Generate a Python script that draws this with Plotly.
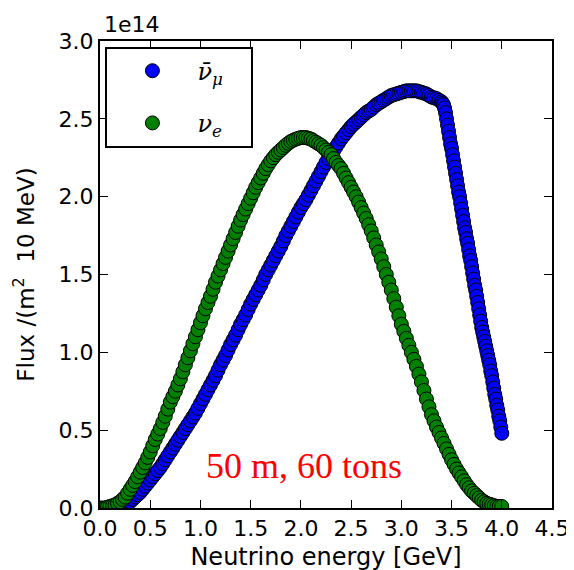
import numpy as np
import plotly.graph_objects as go

# flux in units of 1e14 /(m^2 10 MeV), energy in GeV
e_green = np.round(np.arange(0.0, 4.0001, 0.025), 3)
flux_green = [0.00, 0.00, 0.00, 0.005, 0.01, 0.015, 0.02, 0.03, 0.04, 0.055,
              0.07, 0.095, 0.12, 0.145, 0.17, 0.20, 0.23, 0.26, 0.29, 0.325,
              0.36, 0.40, 0.44, 0.475, 0.51, 0.55, 0.59, 0.635, 0.68, 0.715,
              0.75, 0.79, 0.83, 0.875, 0.92, 0.965, 1.01, 1.055, 1.10, 1.145,
              1.19, 1.235, 1.28, 1.32, 1.36, 1.405, 1.45, 1.49, 1.53, 1.57,
              1.61, 1.65, 1.69, 1.73, 1.77, 1.81, 1.85, 1.885, 1.92, 1.955,
              1.99, 2.025, 2.06, 2.09, 2.12, 2.15, 2.18, 2.205, 2.23, 2.25,
              2.27, 2.285, 2.30, 2.315, 2.33, 2.343, 2.355, 2.363, 2.37, 2.375,
              2.38, 2.38, 2.38, 2.375, 2.37, 2.36, 2.35, 2.34, 2.33, 2.315,
              2.30, 2.285, 2.27, 2.245, 2.22, 2.20, 2.18, 2.15, 2.12, 2.09,
              2.06, 2.03, 2.00, 1.965, 1.93, 1.895, 1.86, 1.82, 1.78, 1.735,
              1.69, 1.645, 1.60, 1.55, 1.50, 1.45, 1.40, 1.345, 1.29, 1.235,
              1.18, 1.135, 1.09, 1.045, 1.00, 0.955, 0.91, 0.86, 0.81, 0.755,
              0.70, 0.65, 0.60, 0.56, 0.52, 0.485, 0.45, 0.415, 0.38, 0.345,
              0.31, 0.28, 0.25, 0.225, 0.20, 0.175, 0.15, 0.13, 0.11, 0.095,
              0.08, 0.065, 0.05, 0.04, 0.03, 0.025, 0.02, 0.015, 0.01, 0.01,
              0.01]

e_blue_rise = np.round(np.arange(0.20, 3.4001, 0.025), 3)
flux_blue_rise = [0.00, 0.01, 0.02, 0.03, 0.04, 0.055, 0.07, 0.085, 0.10, 0.12,
                  0.14, 0.16, 0.18, 0.20, 0.22, 0.24, 0.26, 0.285, 0.31, 0.335,
                  0.36, 0.385, 0.41, 0.435, 0.46, 0.485, 0.51, 0.535, 0.56, 0.585,
                  0.61, 0.64, 0.67, 0.70, 0.73, 0.76, 0.79, 0.82, 0.85, 0.885,
                  0.92, 0.95, 0.98, 1.015, 1.05, 1.08, 1.11, 1.145, 1.18, 1.21,
                  1.24, 1.275, 1.31, 1.34, 1.37, 1.40, 1.43, 1.465, 1.50, 1.53,
                  1.56, 1.59, 1.62, 1.65, 1.68, 1.715, 1.75, 1.78, 1.81, 1.84,
                  1.87, 1.90, 1.93, 1.955, 1.98, 2.01, 2.04, 2.07, 2.10, 2.13,
                  2.16, 2.19, 2.22, 2.245, 2.27, 2.295, 2.32, 2.345, 2.37, 2.39,
                  2.41, 2.43, 2.45, 2.465, 2.48, 2.495, 2.51, 2.525, 2.54, 2.55,
                  2.56, 2.575, 2.59, 2.60, 2.61, 2.62, 2.63, 2.64, 2.65, 2.655,
                  2.66, 2.665, 2.67, 2.675, 2.68, 2.68, 2.68, 2.68, 2.68, 2.675,
                  2.67, 2.665, 2.66, 2.65, 2.64, 2.635, 2.63, 2.62, 2.61]
e_blue_drop = np.round(np.arange(3.41, 4.0001, 0.01), 2)
flux_blue_drop = [2.60, 2.59, 2.57, 2.54, 2.50, 2.46, 2.42, 2.38, 2.34, 2.31,
                  2.27, 2.23, 2.19, 2.15, 2.11, 2.07, 2.03, 2.00, 1.96, 1.92,
                  1.88, 1.84, 1.80, 1.77, 1.73, 1.70, 1.66, 1.62, 1.59, 1.55,
                  1.51, 1.47, 1.43, 1.40, 1.36, 1.32, 1.28, 1.24, 1.20, 1.16,
                  1.13, 1.10, 1.07, 1.04, 1.01, 0.98, 0.95, 0.92, 0.88, 0.85,
                  0.81, 0.77, 0.73, 0.70, 0.66, 0.63, 0.59, 0.56, 0.52, 0.48]

e_blue = list(e_blue_rise) + list(e_blue_drop)
flux_blue = flux_blue_rise + flux_blue_drop

ticks = [0.0, 0.5, 1.0, 1.5, 2.0, 2.5, 3.0, 3.5, 4.0, 4.5]

fig = go.Figure()
fig.add_trace(go.Scatter(
    x=e_blue, y=flux_blue, mode="markers",
    name="<i>ν̄</i><sub><i>μ</i></sub>\u00a0\u00a0\u00a0",
    legendgroup="a",
    marker=dict(color="#0000ff", size=14, line=dict(color="black", width=1))
))
fig.add_trace(go.Scatter(
    x=e_green, y=flux_green, mode="markers", name="<i>ν</i><sub><i>e</i></sub>",
    legendgroup="b",
    marker=dict(color="#008000", size=14, line=dict(color="black", width=1))
))

fig.add_annotation(x=2.03, y=0.27, text="50 m, 60 tons", showarrow=False,
                   font=dict(family="Liberation Serif", size=36, color="red"))
fig.add_annotation(xref="paper", yref="paper", x=0.005, y=1.0, xanchor="left",
                   yanchor="bottom", text="1e14", showarrow=False, yshift=2,
                   font=dict(family="DejaVu Sans", size=22, color="black"))

axis_style = dict(showgrid=False, zeroline=False, showline=True, linecolor="black",
                  linewidth=2, mirror="ticks", ticks="inside", ticklen=8,
                  tickwidth=1, tickcolor="black",
                  tickfont=dict(family="DejaVu Sans", size=22, color="black"))

fig.update_xaxes(range=[0, 4.5], tickvals=ticks, ticktext=["%.1f" % t for t in ticks],
                 title=dict(text="Neutrino energy [GeV]", standoff=8,
                            font=dict(family="DejaVu Sans", size=24, color="black")),
                 **axis_style)
fig.update_yaxes(range=[0, 3.0], tickvals=[0, 0.5, 1.0, 1.5, 2.0, 2.5, 3.0],
                 tickformat=".1f",
                 title=dict(text="Flux /(m<sup>2</sup>  10 MeV)", standoff=18,
                            font=dict(family="DejaVu Sans", size=23, color="black")),
                 **axis_style)

fig.update_layout(
    width=574, height=570,
    margin=dict(l=92, r=23, t=33, b=63),
    plot_bgcolor="white", paper_bgcolor="white",
    showlegend=True,
    legend=dict(x=0.012, y=0.988, xanchor="left", yanchor="top",
                bgcolor="white", bordercolor="black", borderwidth=2,
                itemwidth=80, tracegroupgap=18,
                font=dict(family="DejaVu Serif", size=24, color="black")),
)

fig.write_html("out.html")
